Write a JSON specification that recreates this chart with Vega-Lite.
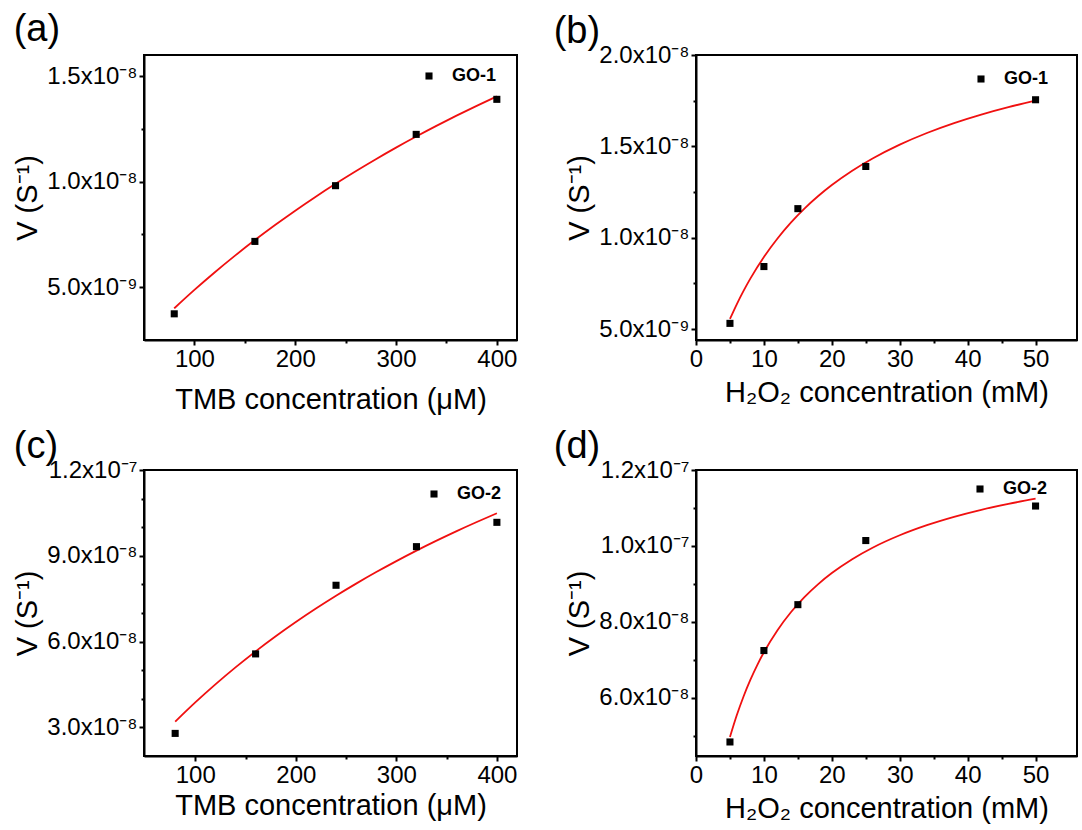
{
  "$schema": "https://vega.github.io/schema/vega-lite/v6.json",
  "background": "white",
  "padding": {"left": 12, "top": 10, "right": 2, "bottom": 0},
  "bounds": "flush",
  "columns": 2,
  "spacing": {"row": 130, "column": 179},
  "resolve": {"scale": {"color": "independent"}, "legend": {"color": "independent"}},
  "concat": [
    {
      "title": {"text": "(a)", "offset": 6},
      "width": 373,
      "height": 285,
      "layer": [
        {
          "data": {"values": [
            {"x": 80, "v": 4.0e-9}, {"x": 100, "v": 4.871e-9}, {"x": 120, "v": 5.698e-9}, {"x": 140, "v": 6.484e-9},
            {"x": 160, "v": 7.233e-9}, {"x": 180, "v": 7.946e-9}, {"x": 200, "v": 8.627e-9}, {"x": 220, "v": 9.278e-9},
            {"x": 240, "v": 9.899e-9}, {"x": 260, "v": 1.0495e-8}, {"x": 280, "v": 1.1065e-8}, {"x": 300, "v": 1.1612e-8},
            {"x": 320, "v": 1.2137e-8}, {"x": 340, "v": 1.2641e-8}, {"x": 360, "v": 1.3126e-8}, {"x": 380, "v": 1.3592e-8},
            {"x": 400, "v": 1.4041e-8}
          ]},
          "mark": {"type": "line", "color": "#f01010", "strokeWidth": 1.8, "interpolate": "monotone"},
          "encoding": {
            "x": {"field": "x", "type": "quantitative", "title": "TMB concentration (μM)",
              "scale": {"domain": [50, 420], "nice": false, "zero": false},
              "axis": {"values": [100, 150, 200, 250, 300, 350, 400], "tickCount": 50, "labelOverlap": false, "titlePadding": 14,
                "labelExpr": "datum.value % 100 == 0 ? datum.label : ''",
                "labelFontSize": {"condition": {"test": "datum.value % 100 != 0", "value": 1}, "value": 24},
                "tickSize": {"condition": {"test": "datum.value % 100 == 0", "value": 5}, "value": 3}}},
            "y": {"field": "v", "type": "quantitative", "title": "V (S⁻¹)",
              "scale": {"domain": [2.5e-9, 1.6e-8], "nice": false, "zero": false},
              "axis": {"values": [5e-9, 7.5e-9, 1e-8, 1.25e-8, 1.5e-8], "tickCount": 50, "labelOverlap": false,
                "labelExpr": "abs(datum.value/5e-9 - round(datum.value/5e-9)) > 0.001 ? '' : (datum.value < 9.9e-9 ? format(datum.value*1e9, '.1f') + 'x10⁻⁹' : format(datum.value*1e8, '.1f') + 'x10⁻⁸')",
                "labelFontSize": {"condition": {"test": "abs(datum.value/5e-9 - round(datum.value/5e-9)) > 0.001", "value": 1}, "value": 24},
                "tickSize": {"condition": {"test": "abs(datum.value/5e-9 - round(datum.value/5e-9)) < 0.001", "value": 5}, "value": 3}}}
          }
        },
        {
          "data": {"values": [
            {"x": 80, "v": 3.74e-9, "sample": "GO-1"}, {"x": 160, "v": 7.17e-9, "sample": "GO-1"},
            {"x": 240, "v": 9.81e-9, "sample": "GO-1"}, {"x": 320, "v": 1.224e-8, "sample": "GO-1"},
            {"x": 400, "v": 1.39e-8, "sample": "GO-1"}
          ]},
          "mark": {"type": "point", "shape": "square", "filled": true, "size": 50, "opacity": 1},
          "encoding": {
            "x": {"field": "x", "type": "quantitative", "title": "TMB concentration (μM)"},
            "y": {"field": "v", "type": "quantitative", "title": "V (S⁻¹)"},
            "color": {"field": "sample", "type": "nominal", "scale": {"domain": ["GO-1"], "range": ["black"]},
              "legend": {"orient": "none", "legendX": 276, "legendY": 12}}
          }
        }
      ]
    },
    {
      "title": {"text": "(b)", "offset": -8, "dx": -12},
      "width": 381,
      "height": 285,
      "layer": [
        {
          "data": {"values": [
            {"x": 5, "v": 5.55e-9}, {"x": 6, "v": 6.353e-9}, {"x": 7, "v": 7.086e-9}, {"x": 8, "v": 7.757e-9},
            {"x": 10, "v": 8.943e-9}, {"x": 12, "v": 9.957e-9}, {"x": 14, "v": 1.0836e-8}, {"x": 16, "v": 1.1603e-8},
            {"x": 18, "v": 1.2279e-8}, {"x": 20, "v": 1.288e-8}, {"x": 23, "v": 1.3665e-8}, {"x": 26, "v": 1.4336e-8},
            {"x": 30, "v": 1.5095e-8}, {"x": 34, "v": 1.5732e-8}, {"x": 38, "v": 1.6274e-8}, {"x": 42, "v": 1.6741e-8},
            {"x": 46, "v": 1.7147e-8}, {"x": 50, "v": 1.7504e-8}
          ]},
          "mark": {"type": "line", "color": "#f01010", "strokeWidth": 1.8, "interpolate": "monotone"},
          "encoding": {
            "x": {"field": "x", "type": "quantitative", "title": "H₂O₂ concentration (mM)",
              "scale": {"domain": [0, 56.1], "nice": false, "zero": false},
              "axis": {"values": [0, 5, 10, 15, 20, 25, 30, 35, 40, 45, 50], "tickCount": 50, "labelOverlap": false, "titlePadding": 7,
                "labelExpr": "datum.value % 10 == 0 ? datum.label : ''",
                "labelFontSize": {"condition": {"test": "datum.value % 10 != 0", "value": 1}, "value": 24},
                "tickSize": {"condition": {"test": "datum.value % 10 == 0", "value": 5}, "value": 3}}},
            "y": {"field": "v", "type": "quantitative", "title": "V (S⁻¹)",
              "scale": {"domain": [4.4e-9, 2.0e-8], "nice": false, "zero": false},
              "axis": {"values": [5e-9, 7.5e-9, 1e-8, 1.25e-8, 1.5e-8, 1.75e-8, 2e-8], "tickCount": 50, "labelOverlap": false,
                "labelExpr": "abs(datum.value/5e-9 - round(datum.value/5e-9)) > 0.001 ? '' : (datum.value < 9.9e-9 ? format(datum.value*1e9, '.1f') + 'x10⁻⁹' : format(datum.value*1e8, '.1f') + 'x10⁻⁸')",
                "labelFontSize": {"condition": {"test": "abs(datum.value/5e-9 - round(datum.value/5e-9)) > 0.001", "value": 1}, "value": 24},
                "tickSize": {"condition": {"test": "abs(datum.value/5e-9 - round(datum.value/5e-9)) < 0.001", "value": 5}, "value": 3}}}
          }
        },
        {
          "data": {"values": [
            {"x": 5, "v": 5.31e-9, "sample": "GO-1"}, {"x": 10, "v": 8.42e-9, "sample": "GO-1"},
            {"x": 15, "v": 1.159e-8, "sample": "GO-1"}, {"x": 25, "v": 1.39e-8, "sample": "GO-1"},
            {"x": 50, "v": 1.755e-8, "sample": "GO-1"}
          ]},
          "mark": {"type": "point", "shape": "square", "filled": true, "size": 50, "opacity": 1},
          "encoding": {
            "x": {"field": "x", "type": "quantitative", "title": "H₂O₂ concentration (mM)"},
            "y": {"field": "v", "type": "quantitative", "title": "V (S⁻¹)"},
            "color": {"field": "sample", "type": "nominal", "scale": {"domain": ["GO-1"], "range": ["black"]},
              "legend": {"orient": "none", "legendX": 276, "legendY": 15}}
          }
        }
      ]
    },
    {
      "title": {"text": "(c)", "offset": -8},
      "width": 373,
      "height": 286,
      "layer": [
        {
          "data": {"values": [
            {"x": 80, "v": 3.2e-8}, {"x": 100, "v": 3.873e-8}, {"x": 120, "v": 4.504e-8}, {"x": 140, "v": 5.098e-8},
            {"x": 160, "v": 5.657e-8}, {"x": 180, "v": 6.185e-8}, {"x": 200, "v": 6.683e-8}, {"x": 220, "v": 7.155e-8},
            {"x": 240, "v": 7.603e-8}, {"x": 260, "v": 8.027e-8}, {"x": 280, "v": 8.431e-8}, {"x": 300, "v": 8.815e-8},
            {"x": 320, "v": 9.182e-8}, {"x": 340, "v": 9.531e-8}, {"x": 360, "v": 9.865e-8}, {"x": 380, "v": 1.0183e-7},
            {"x": 400, "v": 1.0489e-7}
          ]},
          "mark": {"type": "line", "color": "#f01010", "strokeWidth": 1.8, "interpolate": "monotone"},
          "encoding": {
            "x": {"field": "x", "type": "quantitative", "title": "TMB concentration (μM)",
              "scale": {"domain": [49, 420], "nice": false, "zero": false},
              "axis": {"values": [100, 150, 200, 250, 300, 350, 400], "tickCount": 50, "labelOverlap": false, "titlePadding": 4,
                "labelExpr": "datum.value % 100 == 0 ? datum.label : ''",
                "labelFontSize": {"condition": {"test": "datum.value % 100 != 0", "value": 1}, "value": 24},
                "tickSize": {"condition": {"test": "datum.value % 100 == 0", "value": 5}, "value": 3}}},
            "y": {"field": "v", "type": "quantitative", "title": "V (S⁻¹)",
              "scale": {"domain": [2.0e-8, 1.2e-7], "nice": false, "zero": false},
              "axis": {"values": [3e-8, 4e-8, 5e-8, 6e-8, 7e-8, 8e-8, 9e-8, 1e-7, 1.1e-7, 1.2e-7], "tickCount": 50, "labelOverlap": false,
                "labelExpr": "abs(datum.value/3e-8 - round(datum.value/3e-8)) > 0.001 ? '' : (datum.value > 9.95e-8 ? format(datum.value*1e7, '.1f') + 'x10⁻⁷' : format(datum.value*1e8, '.1f') + 'x10⁻⁸')",
                "labelFontSize": {"condition": {"test": "abs(datum.value/3e-8 - round(datum.value/3e-8)) > 0.001", "value": 1}, "value": 24},
                "tickSize": {"condition": {"test": "abs(datum.value/3e-8 - round(datum.value/3e-8)) < 0.001", "value": 5}, "value": 3}}}
          }
        },
        {
          "data": {"values": [
            {"x": 80, "v": 2.79e-8, "sample": "GO-2"}, {"x": 160, "v": 5.57e-8, "sample": "GO-2"},
            {"x": 240, "v": 7.97e-8, "sample": "GO-2"}, {"x": 320, "v": 9.32e-8, "sample": "GO-2"},
            {"x": 400, "v": 1.017e-7, "sample": "GO-2"}
          ]},
          "mark": {"type": "point", "shape": "square", "filled": true, "size": 50, "opacity": 1},
          "encoding": {
            "x": {"field": "x", "type": "quantitative", "title": "TMB concentration (μM)"},
            "y": {"field": "v", "type": "quantitative", "title": "V (S⁻¹)"},
            "color": {"field": "sample", "type": "nominal", "scale": {"domain": ["GO-2"], "range": ["black"]},
              "legend": {"orient": "none", "legendX": 281, "legendY": 15}}
          }
        }
      ]
    },
    {
      "title": {"text": "(d)", "offset": -8, "dx": -12},
      "width": 381,
      "height": 286,
      "layer": [
        {
          "data": {"values": [
            {"x": 5, "v": 4.96e-8}, {"x": 6, "v": 5.533e-8}, {"x": 7, "v": 6.03e-8}, {"x": 8, "v": 6.466e-8},
            {"x": 9, "v": 6.851e-8}, {"x": 10, "v": 7.194e-8}, {"x": 12, "v": 7.777e-8}, {"x": 14, "v": 8.256e-8},
            {"x": 16, "v": 8.655e-8}, {"x": 18, "v": 8.993e-8}, {"x": 20, "v": 9.283e-8}, {"x": 23, "v": 9.649e-8},
            {"x": 26, "v": 9.951e-8}, {"x": 30, "v": 1.0279e-7}, {"x": 34, "v": 1.0545e-7}, {"x": 38, "v": 1.0765e-7},
            {"x": 42, "v": 1.095e-7}, {"x": 46, "v": 1.1107e-7}, {"x": 50, "v": 1.1243e-7}
          ]},
          "mark": {"type": "line", "color": "#f01010", "strokeWidth": 1.8, "interpolate": "monotone"},
          "encoding": {
            "x": {"field": "x", "type": "quantitative", "title": "H₂O₂ concentration (mM)",
              "scale": {"domain": [0, 56.1], "nice": false, "zero": false},
              "axis": {"values": [0, 5, 10, 15, 20, 25, 30, 35, 40, 45, 50], "tickCount": 50, "labelOverlap": false, "titlePadding": 7,
                "labelExpr": "datum.value % 10 == 0 ? datum.label : ''",
                "labelFontSize": {"condition": {"test": "datum.value % 10 != 0", "value": 1}, "value": 24},
                "tickSize": {"condition": {"test": "datum.value % 10 == 0", "value": 5}, "value": 3}}},
            "y": {"field": "v", "type": "quantitative", "title": "V (S⁻¹)",
              "scale": {"domain": [4.46e-8, 1.2e-7], "nice": false, "zero": false},
              "axis": {"values": [5e-8, 6e-8, 7e-8, 8e-8, 9e-8, 1e-7, 1.1e-7, 1.2e-7], "tickCount": 50, "labelOverlap": false,
                "labelExpr": "abs(datum.value/2e-8 - round(datum.value/2e-8)) > 0.001 ? '' : (datum.value > 9.95e-8 ? format(datum.value*1e7, '.1f') + 'x10⁻⁷' : format(datum.value*1e8, '.1f') + 'x10⁻⁸')",
                "labelFontSize": {"condition": {"test": "abs(datum.value/2e-8 - round(datum.value/2e-8)) > 0.001", "value": 1}, "value": 24},
                "tickSize": {"condition": {"test": "abs(datum.value/2e-8 - round(datum.value/2e-8)) < 0.001", "value": 5}, "value": 3}}}
          }
        },
        {
          "data": {"values": [
            {"x": 5, "v": 4.83e-8, "sample": "GO-2"}, {"x": 10, "v": 7.24e-8, "sample": "GO-2"},
            {"x": 15, "v": 8.45e-8, "sample": "GO-2"}, {"x": 25, "v": 1.014e-7, "sample": "GO-2"},
            {"x": 50, "v": 1.105e-7, "sample": "GO-2"}
          ]},
          "mark": {"type": "point", "shape": "square", "filled": true, "size": 50, "opacity": 1},
          "encoding": {
            "x": {"field": "x", "type": "quantitative", "title": "H₂O₂ concentration (mM)"},
            "y": {"field": "v", "type": "quantitative", "title": "V (S⁻¹)"},
            "color": {"field": "sample", "type": "nominal", "scale": {"domain": ["GO-2"], "range": ["black"]},
              "legend": {"orient": "none", "legendX": 275, "legendY": 10}}
          }
        }
      ]
    }
  ],
  "config": {
    "font": "Liberation Sans",
    "view": {"stroke": "black", "strokeWidth": 2},
    "axis": {
      "grid": false,
      "domainColor": "black",
      "domainWidth": 2,
      "tickColor": "black",
      "tickWidth": 2,
      "labelFont": "Liberation Sans",
      "labelFontSize": 24,
      "labelColor": "black",
      "titleFont": "Liberation Sans",
      "titleFontSize": 29,
      "titleFontWeight": "normal",
      "titleColor": "black",
      "labelPadding": 2,
      "labelOverlap": false,
      "labelFlush": false
    },
    "axisY": {"titlePadding": 4, "labelPadding": 2},
    "legend": {
      "title": null,
      "padding": 0,
      "symbolType": "square",
      "symbolSize": 50,
      "symbolFillColor": "black",
      "symbolStrokeWidth": 0,
      "labelFont": "Liberation Sans",
      "labelFontSize": 18,
      "labelFontWeight": "bold",
      "labelColor": "black",
      "labelOffset": 14
    },
    "title": {
      "font": "Liberation Sans",
      "fontSize": 38,
      "fontWeight": "normal",
      "color": "black",
      "anchor": "start",
      "frame": "bounds"
    }
  }
}
